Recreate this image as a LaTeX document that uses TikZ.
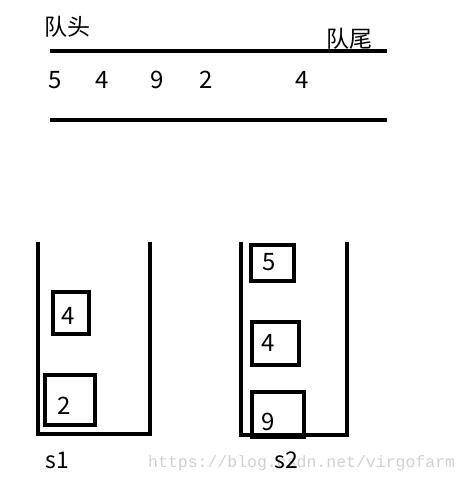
\documentclass[tikz,border=0pt]{standalone}
\usepackage{fontspec}
\setmainfont{Noto Sans CJK SC}
\newfontfamily\wmfont{Liberation Mono}
\begin{document}
\begin{tikzpicture}[x=1pt,y=-1pt,
  bar/.style={line width=4pt},
  wall/.style={line width=4pt,line join=miter},
  cell/.style={draw,line width=4pt,inner sep=0pt},
  digit/.style={anchor=base,inner sep=0pt,font=\fontsize{24}{24}\selectfont},
  cjk/.style={anchor=base,inner sep=0pt,font=\fontsize{23}{23}\selectfont},
  wm/.style={anchor=base west,inner sep=0pt,text=black!18,font=\wmfont\fontsize{16.5}{16.5}\selectfont}]
\useasboundingbox (0,0) rectangle (470,491);
% queue
\coordinate (qa) at (50,51); \coordinate (qb) at (387,51);
\coordinate (qc) at (50,120); \coordinate (qd) at (387,120);
\draw[bar] (qa) -- (qb);
\draw[bar] (qc) -- (qd);
\node[cjk] (head) at (68,35) {队头};
\node[cjk] (tail) at (349,47) {队尾};
\node[digit] (q1) at (55.5,88) {5};
\node[digit] (q2) at (102,88) {4};
\node[digit] (q3) at (157.5,88) {9};
\node[digit] (q4) at (206,88) {2};
\node[digit] (q5) at (302,88) {4};
% stack s1
\coordinate (a1) at (37.5,242); \coordinate (a2) at (37.5,433.5);
\coordinate (a3) at (149.5,433.5); \coordinate (a4) at (149.5,242);
\draw[wall] (a1) -- (a2) -- (a3) -- (a4);
\node[cell,minimum width=36.5pt,minimum height=42pt] (b14) at (70.75,313) {};
\node[cell,minimum width=50pt,minimum height=50pt] (b12) at (70,400) {};
\node[digit] at (68,324) {4};
\node[digit] at (64.5,414) {2};
% stack s2
\coordinate (c1) at (240.5,242); \coordinate (c2) at (240.5,434.5);
\coordinate (c3) at (346.5,434.5); \coordinate (c4) at (346.5,242);
\draw[wall] (c1) -- (c2) -- (c3) -- (c4);
\node[cell,minimum width=43pt,minimum height=35.5pt] (b25) at (272.5,262.75) {};
\node[cell,minimum width=47pt,minimum height=43pt] (b24) at (275.5,343.5) {};
\node[cell,minimum width=52pt,minimum height=45pt] (b29) at (278,414.5) {};
\node[digit] at (269,270) {5};
\node[digit] at (268.5,351) {4};
\node[digit] at (268.5,430) {9};
% labels
\node[wm] (wm) at (148,467) {https://blog.csdn.net/virgofarm};
\node[cjk] (s1) at (57.5,468) {s1};
\node[cjk] (s2) at (286.5,468) {s2};
\end{tikzpicture}
\end{document}
